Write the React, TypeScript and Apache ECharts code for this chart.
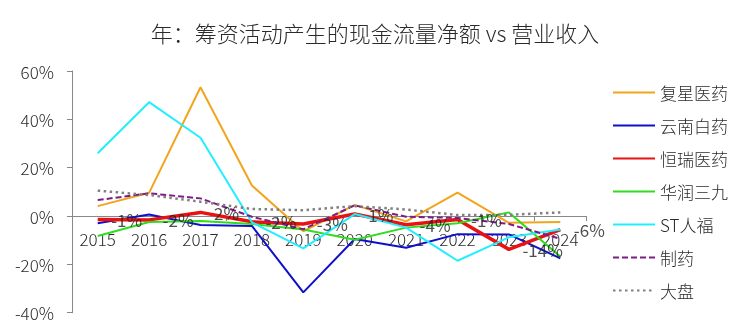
import React, { useEffect, useRef } from "react";
import * as echarts from "echarts";

const years = ["2015", "2016", "2017", "2018", "2019", "2020", "2021", "2022", "2023", "2024"];
const fosun = [4.1, 9.6, 53.3, 12.6, -6.3, 4.6, -2.2, 9.7, -2.8, -2.5];
const yunnan = [-3.0, 0.6, -3.7, -4.1, -31.6, -9.5, -13.1, -7.5, -7.6, -17.5];
const hengrui = [-1.4, -1.6, 1.5, -2.4, -3.3, 0.8, -3.6, -1.4, -13.8, -5.6];
const huarun = [-8.3, -2.5, -2.1, -3.3, -5.6, -9.8, -4.8, -3.0, 1.5, -16.8];
const renfu = [26.0, 47.1, 32.4, -2.6, -13.4, 0.8, -4.8, -18.5, -8.8, -5.6];
const pharma = [6.6, 9.4, 7.3, -0.3, -5.5, 4.4, -0.3, -0.8, -3.3, -9.4];
const market = [10.5, 8.7, 5.9, 2.9, 2.4, 4.1, 2.7, 0.4, 0.5, 1.5];
const yTicks = { min: -40, max: 60, interval: 20 };
const legendNames = ["复星医药", "云南白药", "恒瑞医药", "华润三九", "ST人福", "制药", "大盘"];

const FONT = "'Noto Sans CJK SC', 'Noto Sans', sans-serif";
const TXT = "#2a2a2a";
const GRID_TOP = 71;
const GRID_H = 241.7;

export default function App() {
  const ref = useRef<HTMLDivElement>(null);
  useEffect(() => {
    if (!ref.current) return;
    const chart = echarts.init(ref.current, undefined, { renderer: "svg" });
    const line = (name: string, data: number[], color: string, width: number, type: any = "solid") => ({
      name,
      type: "line",
      data,
      symbol: "none",
      itemStyle: { color },
      lineStyle: { color, width, type },
      emphasis: { disabled: true },
    });
    // offset of the category axis so that it sits at value 0
    const zeroOffset = -GRID_H * (0 - yTicks.min) / (yTicks.max - yTicks.min);
    chart.setOption({
      animation: false,
      textStyle: { fontFamily: FONT },
      title: {
        text: "年：筹资活动产生的现金流量净额 vs 营业收入",
        left: "center",
        top: 21,
        padding: 0,
        textStyle: { fontFamily: FONT, fontSize: 22, fontWeight: 300, color: TXT },
      },
      legend: {
        orient: "vertical",
        left: 612,
        top: 84,
        padding: 0,
        itemWidth: 42,
        itemHeight: 14,
        itemGap: 16,
        itemStyle: { opacity: 0 },
        textStyle: { fontFamily: FONT, fontSize: 17, fontWeight: 300, color: TXT },
        data: legendNames,
      },
      grid: { left: 72, top: GRID_TOP, width: 514, height: GRID_H },
      xAxis: {
        type: "category",
        data: years,
        boundaryGap: true,
        offset: zeroOffset,
        axisLine: { onZero: false, lineStyle: { color: "#888", width: 1 } },
        axisTick: { show: true, length: 5, lineStyle: { color: "#888" } },
        axisLabel: { fontFamily: FONT, fontSize: 17, fontWeight: 300, color: TXT, margin: 14 },
        splitLine: { show: false },
      },
      yAxis: {
        type: "value",
        min: yTicks.min,
        max: yTicks.max,
        interval: yTicks.interval,
        axisLine: { show: true, lineStyle: { color: "#888", width: 1 } },
        axisTick: { show: true, length: 5, lineStyle: { color: "#888" } },
        axisLabel: { fontFamily: FONT, fontSize: 17, fontWeight: 300, color: TXT, margin: 18, formatter: "{value}%" },
        splitLine: { show: false },
      },
      series: [
        line("复星医药", fosun, "#F2A51C", 2),
        line("云南白药", yunnan, "#0F0FCC", 2),
        line("恒瑞医药", hengrui, "#E81212", 3.5),
        line("华润三九", huarun, "#2EDD1E", 2),
        line("ST人福", renfu, "#22EEFF", 2),
        line("制药", pharma, "#7E1C86", 2, [6, 3]),
        line("大盘", market, "#808080", 2.5, [2.5, 3.5]),
        {
          name: "恒瑞医药标签",
          type: "scatter",
          data: hengrui,
          symbolSize: 1,
          itemStyle: { color: "rgba(0,0,0,0)" },
          emphasis: { disabled: true },
          z: 5,
          label: {
            show: true,
            position: "right",
            distance: 13,
            fontFamily: FONT,
            fontSize: 17,
            fontWeight: "normal",
            color: "#222",
            formatter: (p: any) => Math.round(p.value) + "%",
          },
        },
      ],
    });
    return () => chart.dispose();
  }, []);
  return <div ref={ref} style={{ position: "fixed", left: 0, top: 0, width: 750, height: 333 }} />;
}
